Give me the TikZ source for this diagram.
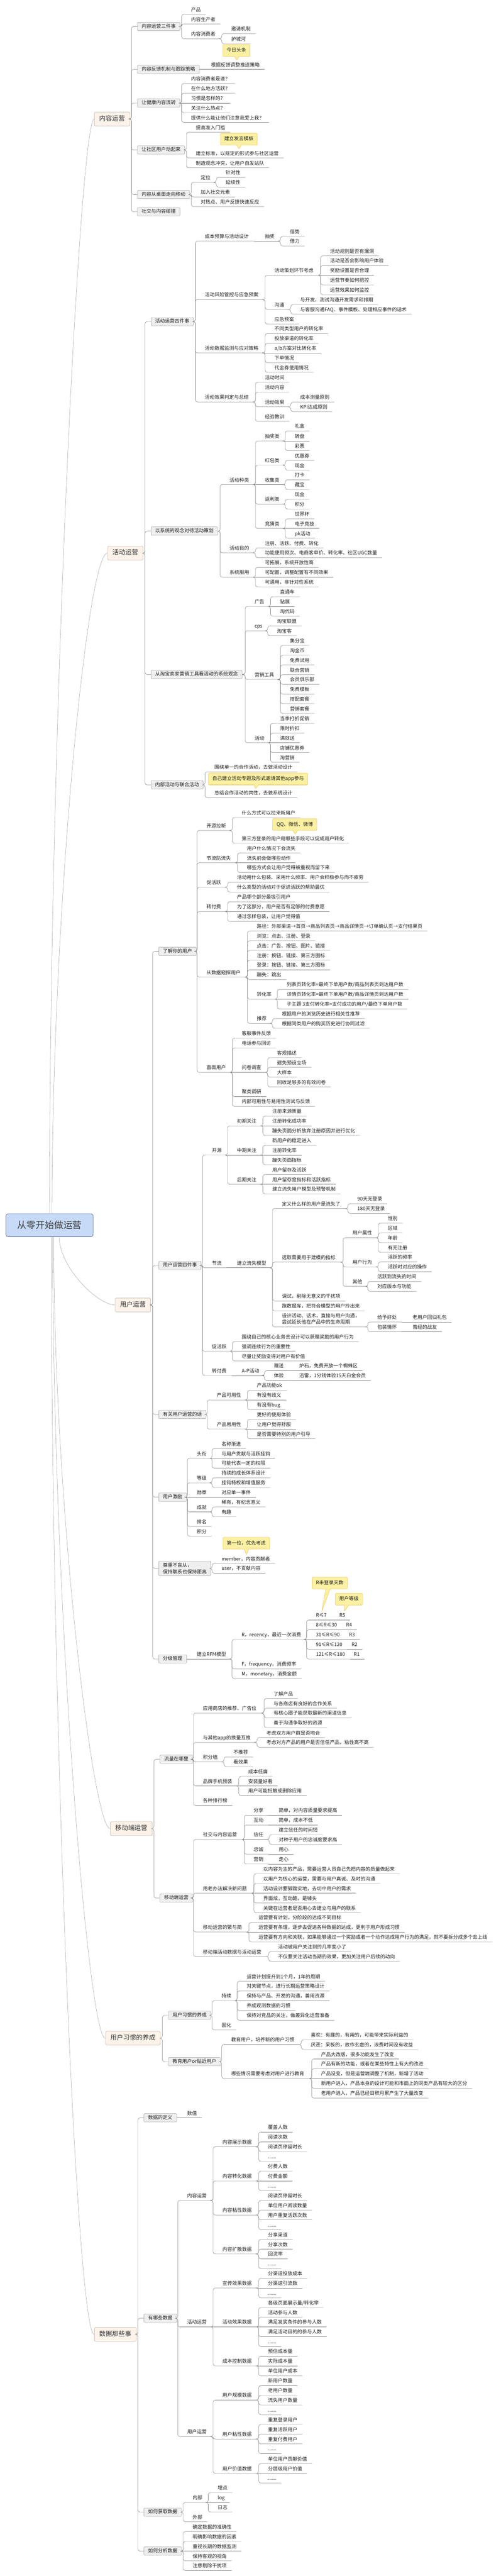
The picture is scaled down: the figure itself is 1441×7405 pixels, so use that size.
\documentclass[tikz,border=0pt]{standalone}
\usepackage{fontspec}
\setmainfont{Noto Sans CJK SC}
\usetikzlibrary{shapes.callouts}
\definecolor{lncol}{HTML}{8C8C8C}
\definecolor{mainln}{HTML}{A6A6A6}
\definecolor{bxfill}{HTML}{EFEFEF}
\definecolor{bxdraw}{HTML}{9A9A9A}
\definecolor{mfill}{HTML}{FDF3EA}
\definecolor{mdraw}{HTML}{B8ADA2}
\definecolor{rfill}{HTML}{C7DBF9}
\definecolor{rdraw}{HTML}{56688A}
\definecolor{cfill}{HTML}{FCF0A3}
\definecolor{cdraw}{HTML}{F0C24A}
\definecolor{txt}{HTML}{1E1E1E}
\definecolor{mtxt}{HTML}{333333}
\definecolor{rtxt}{HTML}{3C3C3C}
\newcommand\mmfL{\fontsize{14}{18.6}\selectfont}
\newcommand\mmfM{\fontsize{18.5}{22}\selectfont}
\newcommand\mmfR{\fontsize{26.5}{30}\selectfont}
\tikzset{
 conn/.style={draw=lncol, line width=0.9pt, rounded corners=6pt},
 mainline/.style={draw=mainln, line width=0.8pt},
 lf/.style={anchor=south west, inner xsep=14pt, inner ysep=5pt, text height=11pt, text depth=3pt, font=\mmfL, text=txt},
 lftwo/.style={anchor=south west, inner xsep=14pt, inner ysep=5pt, text depth=3pt, font=\mmfL, text=txt, align=left},
 bx/.style={anchor=west, draw=bxdraw, fill=bxfill, rounded corners=2pt, inner xsep=12pt, inner ysep=5pt, text height=11pt, text depth=3pt, font=\mmfL, text=txt, line width=0.7pt},
 bxtwo/.style={anchor=west, draw=bxdraw, fill=bxfill, rounded corners=2pt, inner xsep=12pt, inner ysep=5pt, font=\mmfL, text=txt, line width=0.7pt, align=left},
 mainbox/.style={anchor=west, draw=mdraw, fill=mfill, rounded corners=4pt, inner xsep=14pt, inner ysep=0pt, minimum height=40pt, text height=14pt, text depth=4pt, font=\mmfM, text=mtxt, line width=0.8pt},
 rootbox/.style={draw=rdraw, fill=rfill, rounded corners=6pt, minimum width=251pt, minimum height=66pt, font=\mmfR, text=rtxt, line width=1pt},
 callbox/.style={rectangle callout, draw=cdraw, fill=cfill, rounded corners=3pt, inner xsep=11pt, inner ysep=10pt, text height=11pt, text depth=3pt, font=\mmfL, text=txt, callout pointer width=12pt, line width=0.8pt}
}
\newcommand\mmLeaf[5]{\node[lf] (#1) at (#3-14,#4) {#5};\draw[conn] (#2) -| ([xshift=-13pt]#1.south west) -- (#1.south east);}
\newcommand\mmAl[5]{\node[lf] (#1) at (#3-14,#4) {#5};\draw[conn] (#2) -- (#1.south east);}
\newcommand\mmBox[5]{\node[bx] (#1) at (#3,#4) {#5};\draw[conn] (#2) -| ([xshift=-17pt]#1.west) -- (#1.west);}
\begin{document}
\begin{tikzpicture}[x=1pt,y=-1pt]
\fill[white] (0,0) rectangle (1441,7405);
\useasboundingbox (0,0) rectangle (1441,7405);

% root and main branches
\node[rootbox] (root) at (142.5,3522) {从零开始做运营};
\node[mainbox] (m1) at (271,342) {内容运营};
\node[mainbox] (m2) at (309,1590) {活动运营};
\node[mainbox] (m3) at (331,3751.2) {用户运营};
\node[mainbox] (m4) at (317,5256.5) {移动端运营};
\node[mainbox] (m5) at (303,5859) {用户习惯的养成};
\node[mainbox] (m6) at (271,6710) {数据那些事};
\draw[mainline] (root.north) .. controls +(0,-1416) and +(-41,0) .. (m1.west);
\draw[mainline] ([xshift=7pt]root.north) .. controls +(0,-855) and +(-59,0) .. (m2.west);
\draw[mainline] ([xshift=28pt]root.south) .. controls +(0,88) and +(-50,0) .. (m3.west);
\draw[mainline] ([xshift=12pt]root.south) .. controls +(0,765) and +(-50,0) .. (m4.west);
\draw[mainline] ([xshift=9pt]root.south) .. controls +(0,1037) and +(-50,0) .. (m5.west);
\draw[mainline] ([xshift=5pt]root.south) .. controls +(0,1420) and +(-50,0) .. (m6.west);

% ===== 内容运营 =====
\mmBox{a1}{m1.east}{395}{76.3}{内容运营三件事}
\mmBox{a2}{m1.east}{395}{199.6}{内容反馈机制与跟踪策略}
\mmBox{a3}{m1.east}{395}{296.3}{让健康内容流转}
\mmBox{a4}{m1.east}{395}{431}{让社区用户动起来}
\mmBox{a5}{m1.east}{395}{559}{内容从桌面走向移动}
\mmBox{a6}{m1.east}{395}{608.7}{社交与内容碰撞}
\mmLeaf{a1x}{a1.east}{549.4}{41.1}{产品}
\mmLeaf{a1y}{a1.east}{549.4}{69.2}{内容生产者}
\mmLeaf{a1z}{a1.east}{549.4}{111.5}{内容消费者}
\mmLeaf{a1za}{a1z.south east}{664.8}{96.8}{邀请机制}
\mmLeaf{a1zb}{a1z.south east}{664.8}{125.7}{护城河}
\mmAl{a2x}{a2.east}{606.7}{199.6}{根据反馈调整推送策略}
\node[callbox, callout absolute pointer={(681.4,173.9)}] (k1) at (680,145.3) {今日头条};
\mmLeaf{a3a}{a3.east}{549.4}{239.9}{内容消费者是谁？}
\mmLeaf{a3b}{a3.east}{549.4}{268}{在什么地方活跃？}
\mmAl{a3c}{a3.east}{549.4}{296.3}{习惯是怎样的？}
\mmLeaf{a3d}{a3.east}{549.4}{324.1}{关注什么热点？}
\mmLeaf{a3e}{a3.east}{549.4}{351.8}{提供什么能让他们注意我爱上我？}
\mmLeaf{a4a}{a4.east}{563.3}{380.3}{提高准入门槛}
\mmLeaf{a4b}{a4.east}{563.3}{454.2}{建立标准，以规定的形式参与社区运营}
\mmLeaf{a4c}{a4.east}{563.3}{482.3}{制造观念冲突，让用户自发站队}
\node[callbox, callout absolute pointer={(688,428.9)}] (k2) at (687,400.2) {建立发言模板};
\mmLeaf{a5a}{a5.east}{577.1}{524.2}{定位}
\mmLeaf{a5b}{a5.east}{577.1}{566.1}{加入社交元素}
\mmLeaf{a5c}{a5.east}{577.1}{593.8}{对热点、用户反馈快速反应}
\mmLeaf{a5aa}{a5a.south east}{649.2}{509.8}{针对性}
\mmLeaf{a5ab}{a5a.south east}{649.2}{538}{延续性}

% ===== 活动运营 =====
\mmBox{b1}{m2.east}{434}{924.3}{活动运营四件事}
\mmBox{b2}{m2.east}{434}{1526.6}{以系统的观念对待活动策划}
\mmBox{b3}{m2.east}{434}{1939}{从淘宝卖家营销工具看活动的系统观念}
\mmBox{b4}{m2.east}{434}{2256}{内部活动与联合活动}
\mmLeaf{b1a}{b1.east}{589.1}{693.1}{成本预算与活动设计}
\mmLeaf{b1b}{b1.east}{589.1}{861.1}{活动风险管控与应急预案}
\mmLeaf{b1c}{b1.east}{589.1}{1014.5}{活动数据监测与应对策略}
\mmLeaf{b1d}{b1.east}{589.1}{1155.6}{活动效果判定与总结}
\mmAl{b1aa}{b1a.south east}{761.8}{693.1}{抽奖}
\mmLeaf{b1aaa}{b1aa.south east}{833.8}{679.3}{借势}
\mmLeaf{b1aab}{b1aa.south east}{833.8}{707}{借力}
\mmLeaf{b1ba}{b1b.south east}{789.5}{791.2}{活动策划环节考虑}
\mmLeaf{b1bb}{b1b.south east}{789.5}{889.6}{沟通}
\mmLeaf{b1bc}{b1b.south east}{789.5}{931.5}{应急预案}
\mmLeaf{b1baa}{b1ba.south east}{949.3}{735.4}{活动规则是否有漏洞}
\mmLeaf{b1bab}{b1ba.south east}{949.3}{763.1}{活动是否会影响用户体验}
\mmAl{b1bac}{b1ba.south east}{949.3}{791.2}{奖励设置是否合理}
\mmLeaf{b1bad}{b1ba.south east}{949.3}{819.2}{运营节奏如何把控}
\mmLeaf{b1bae}{b1ba.south east}{949.3}{847.3}{运营效果如何监控}
\mmLeaf{b1bba}{b1bb.south east}{863.4}{875.4}{与开发、测试沟通开发需求和排期}
\mmLeaf{b1bbb}{b1bb.south east}{863.4}{903}{与客服沟通FAQ、事件模板、处理相应事件的话术}
\mmLeaf{b1ca}{b1c.south east}{789.5}{958.8}{不同类型用户的转化率}
\mmLeaf{b1cb}{b1c.south east}{789.5}{986.8}{投放渠道的转化率}
\mmAl{b1cc}{b1c.south east}{789.5}{1014.5}{a/b方案对比转化率}
\mmLeaf{b1cd}{b1c.south east}{789.5}{1042.6}{下单情况}
\mmLeaf{b1ce}{b1c.south east}{789.5}{1070.6}{代金券使用情况}
\mmLeaf{b1da}{b1d.south east}{761.8}{1099.1}{活动时间}
\mmLeaf{b1db}{b1d.south east}{761.8}{1127.2}{活动内容}
\mmLeaf{b1dc}{b1d.south east}{761.8}{1169.5}{活动效果}
\mmLeaf{b1dd}{b1d.south east}{761.8}{1211}{经验教训}
\mmLeaf{b1dca}{b1dc.south east}{863.4}{1155.6}{成本测量原则}
\mmLeaf{b1dcb}{b1dc.south east}{863.4}{1183.3}{KPI达成原则}
\mmLeaf{b2a}{b2.east}{660.2}{1393}{活动种类}
\mmLeaf{b2b}{b2.east}{660.2}{1589.1}{活动目的}
\mmLeaf{b2c}{b2.east}{660.2}{1659}{系统服用}
\mmLeaf{b2aa}{b2a.south east}{761.8}{1267.7}{抽奖类}
\mmLeaf{b2ab}{b2a.south east}{761.8}{1337.2}{红包类}
\mmAl{b2ac}{b2a.south east}{761.8}{1393}{收集类}
\mmLeaf{b2ad}{b2a.south east}{761.8}{1449.1}{返利类}
\mmLeaf{b2ae}{b2a.south east}{761.8}{1519.1}{竞猜类}
\mmLeaf{b2aa1}{b2aa.south east}{847.7}{1238.6}{礼盒}
\mmAl{b2aa2}{b2aa.south east}{847.7}{1267.7}{转盘}
\mmLeaf{b2aa3}{b2aa.south east}{847.7}{1295.3}{彩票}
\mmLeaf{b2ab1}{b2ab.south east}{847.7}{1323.4}{优惠券}
\mmLeaf{b2ab2}{b2ab.south east}{847.7}{1351.5}{现金}
\mmLeaf{b2ac1}{b2ac.south east}{847.7}{1379.1}{打卡}
\mmLeaf{b2ac2}{b2ac.south east}{847.7}{1407.2}{藏宝}
\mmLeaf{b2ad1}{b2ad.south east}{847.7}{1435.3}{现金}
\mmLeaf{b2ad2}{b2ad.south east}{847.7}{1463.3}{积分}
\mmLeaf{b2ae1}{b2ae.south east}{847.7}{1491.4}{世界杯}
\mmAl{b2ae2}{b2ae.south east}{847.7}{1519.1}{电子竞技}
\mmLeaf{b2ae3}{b2ae.south east}{847.7}{1547.2}{pk活动}
\mmLeaf{b2ba}{b2b.south east}{761.8}{1575.2}{注册、活跃、付费、转化}
\mmLeaf{b2bb}{b2b.south east}{761.8}{1602.9}{功能使用频次、电商客单价、转化率、社区UGC数量}
\mmLeaf{b2ca}{b2c.south east}{761.8}{1631}{可拓展，系统开放性高}
\mmAl{b2cb}{b2c.south east}{761.8}{1659}{可配置，调整配置有不同效果}
\mmLeaf{b2cc}{b2c.south east}{761.8}{1687.1}{可通用，非针对性系统}
\mmLeaf{b3a}{b3.east}{732.2}{1743.4}{广告}
\mmLeaf{b3b}{b3.east}{732.2}{1813.2}{cps}
\mmLeaf{b3c}{b3.east}{732.2}{1953.3}{营销工具}
\mmLeaf{b3d}{b3.east}{732.2}{2135.1}{活动}
\mmLeaf{b3a1}{b3a.south east}{805.2}{1715.2}{直通车}
\mmAl{b3a2}{b3a.south east}{805.2}{1743.4}{钻展}
\mmLeaf{b3a3}{b3a.south east}{805.2}{1771.3}{淘代码}
\mmLeaf{b3b1}{b3b.south east}{796.9}{1799.4}{淘宝联盟}
\mmLeaf{b3b2}{b3b.south east}{796.9}{1827.4}{淘宝客}
\mmLeaf{b3c1}{b3c.south east}{833.8}{1855.5}{集分宝}
\mmLeaf{b3c2}{b3c.south east}{833.8}{1883.7}{淘金币}
\mmLeaf{b3c3}{b3c.south east}{833.8}{1911.4}{免费试用}
\mmLeaf{b3c4}{b3c.south east}{833.8}{1939.5}{联合营销}
\mmLeaf{b3c5}{b3c.south east}{833.8}{1967.1}{会员俱乐部}
\mmLeaf{b3c6}{b3c.south east}{833.8}{1995.2}{免费模板}
\mmLeaf{b3c7}{b3c.south east}{833.8}{2022.9}{搭配套餐}
\mmLeaf{b3c8}{b3c.south east}{833.8}{2050.9}{营销套餐}
\mmLeaf{b3d1}{b3d.south east}{805.2}{2079.4}{当季打折促销}
\mmLeaf{b3d2}{b3d.south east}{805.2}{2107.5}{限时折扣}
\mmAl{b3d3}{b3d.south east}{805.2}{2135.1}{满就送}
\mmLeaf{b3d4}{b3d.south east}{805.2}{2163.2}{店铺优惠券}
\mmLeaf{b3d5}{b3d.south east}{805.2}{2191.3}{淘营销}
\mmLeaf{b4a}{b4.east}{616.8}{2218.9}{围绕单一的合作活动，去做活动设计}
\mmLeaf{b4b}{b4.east}{616.8}{2292.9}{总结合作活动的共性，去做系统设计}
\node[callbox, callout absolute pointer={(734,2268)}] (k3) at (742.4,2239.3) {自己建立活动专题及形式邀请其他app参与};

% ===== 用户运营 =====
\mmBox{c1}{m3.east}{456.2}{2734.6}{了解你的用户}
\mmBox{c2}{m3.east}{456.2}{3637.5}{用户运营四件事}
\mmBox{c3}{m3.east}{456.2}{4065.8}{有关用户运营的话}
\mmBox{c4}{m3.east}{456.2}{4303.8}{用户激励}
\node[bxtwo] (c5) at (456.2,4508.6) {尊重不盲从，\\保持联系也保持距离};
\draw[conn] (m3.east) -| ([xshift=-17pt]c5.west) -- (c5.west);
\mmBox{c6}{m3.east}{456.2}{4768.9}{分级管理}
\mmLeaf{c1a}{c1.east}{593.8}{2387.3}{开源拉新}
\mmLeaf{c1b}{c1.east}{593.8}{2480}{节流防流失}
\mmLeaf{c1c}{c1.east}{593.8}{2550.4}{促活跃}
\mmLeaf{c1d}{c1.east}{593.8}{2620.3}{转付费}
\mmLeaf{c1e}{c1.east}{593.8}{2808.9}{从数据窥探用户}
\mmLeaf{c1f}{c1.east}{593.8}{3082.5}{直面用户}
\mmLeaf{c1a1}{c1a.south east}{695.3}{2350.2}{什么方式可以拉来新用户}
\mmLeaf{c1a2}{c1a.south east}{695.3}{2424.1}{第三方登录的用户用哪些手段可以促成用户转化}
\node[callbox, callout absolute pointer={(849.5,2398.4)}] (k4) at (847.7,2370.3) {QQ、微信、微博};
\mmLeaf{c1b1}{c1b.south east}{710.1}{2452.1}{用户什么情况下会流失}
\mmAl{c1b2}{c1b.south east}{710.1}{2480}{流失前会做哪些动作}
\mmLeaf{c1b3}{c1b.south east}{710.1}{2507.7}{哪些方式会让用户觉得被重视而留下来}
\mmLeaf{c1c1}{c1c.south east}{681.5}{2536.1}{活动用什么包装、采用什么频率、用户会积极参与而不疲劳}
\mmLeaf{c1c2}{c1c.south east}{681.5}{2564.2}{什么类型的活动对于促进活跃的帮助最优}
\mmLeaf{c1d1}{c1d.south east}{681.5}{2592.3}{产品哪个部分最吸引用户}
\mmAl{c1d2}{c1d.south east}{681.5}{2620.3}{为了这部分，用户是否有足够的付费意愿}
\mmLeaf{c1d3}{c1d.south east}{681.5}{2648.4}{通过怎样包装，让用户觉得值}
\mmLeaf{c1e1}{c1e.south east}{738.7}{2676.1}{路径：外部渠道→首页→商品列表页→商品详情页→订单确认页→支付结果页}
\mmLeaf{c1e2}{c1e.south east}{738.7}{2704.1}{浏览：点击、注册、登录}
\mmLeaf{c1e3}{c1e.south east}{738.7}{2732.2}{点击：广告、按钮、图片、链接}
\mmLeaf{c1e4}{c1e.south east}{738.7}{2760.3}{注册：按钮、链接、第三方图标}
\mmLeaf{c1e5}{c1e.south east}{738.7}{2787.9}{登录：按钮、链接、第三方图标}
\mmLeaf{c1e6}{c1e.south east}{738.7}{2816}{蹦失：跳出}
\mmLeaf{c1e7}{c1e.south east}{738.7}{2872.1}{转化率}
\mmLeaf{c1e8}{c1e.south east}{738.7}{2941.7}{推荐}
\mmLeaf{c1e71}{c1e7.south east}{824.6}{2844.1}{列表页转化率=最终下单用户数/商品列表页到达用户数}
\mmAl{c1e72}{c1e7.south east}{824.6}{2872.1}{详情页转化率=最终下单用户数/商品详情页到达用户数}
\mmLeaf{c1e73}{c1e7.south east}{824.6}{2900.2}{子主题 3支付转化率=支付成功的用户/最终下单用户数}
\mmLeaf{c1e81}{c1e8.south east}{810.7}{2927.9}{根据用户的浏览历史进行相关性推荐}
\mmLeaf{c1e82}{c1e8.south east}{810.7}{2955.9}{根据同类用户的购买历史进行协同过滤}
\mmLeaf{c1f1}{c1f.south east}{695.3}{2984.4}{客服事件反馈}
\mmLeaf{c1f2}{c1f.south east}{695.3}{3012.4}{电话参与回访}
\mmAl{c1f3}{c1f.south east}{695.3}{3082.5}{问卷调查}
\mmLeaf{c1f4}{c1f.south east}{695.3}{3152.2}{聚类调研}
\mmLeaf{c1f5}{c1f.south east}{695.3}{3180.2}{内部可用性与易用性测试与反馈}
\mmLeaf{c1f31}{c1f3.south east}{796.9}{3040.2}{客观描述}
\mmLeaf{c1f32}{c1f3.south east}{796.9}{3068.2}{避免预设立场}
\mmLeaf{c1f33}{c1f3.south east}{796.9}{3096.3}{大样本}
\mmLeaf{c1f34}{c1f3.south east}{796.9}{3124.5}{回收足够多的有效问卷}
\mmLeaf{c2a}{c2.east}{609.4}{3320.2}{开源}
\mmLeaf{c2b}{c2.east}{609.4}{3644.3}{节流}
\mmLeaf{c2c}{c2.east}{609.4}{3884}{促活跃}
\mmLeaf{c2d}{c2.east}{609.4}{3954}{转付费}
\mmLeaf{c2aa}{c2a.south east}{681.5}{3236.4}{初期关注}
\mmAl{c2ab}{c2a.south east}{681.5}{3320.2}{中期关注}
\mmLeaf{c2ac}{c2a.south east}{681.5}{3404.4}{后期关注}
\mmLeaf{c2aa1}{c2aa.south east}{783.1}{3208.3}{注册来源质量}
\mmAl{c2aa2}{c2aa.south east}{783.1}{3236.4}{注册转化成功率}
\mmLeaf{c2aa3}{c2aa.south east}{783.1}{3264}{蹦失页面分析放弃注册原因并进行优化}
\mmLeaf{c2ab1}{c2ab.south east}{783.1}{3292.5}{新用户的稳定进入}
\mmAl{c2ab2}{c2ab.south east}{783.1}{3320.2}{注册转化率}
\mmLeaf{c2ab3}{c2ab.south east}{783.1}{3348.3}{蹦失页面指标}
\mmLeaf{c2ac1}{c2ac.south east}{783.1}{3376.3}{用户留存及活跃}
\mmAl{c2ac2}{c2ac.south east}{783.1}{3404.4}{用户留存度指标和活跃指标}
\mmLeaf{c2ac3}{c2ac.south east}{783.1}{3432}{建立流失用户模型及预警机制}
\mmAl{c2ba}{c2b.south east}{681.5}{3644.3}{建立流失模型}
\mmLeaf{c2baa}{c2ba.south east}{810.7}{3474}{定义什么样的用户是流失了}
\mmLeaf{c2bab}{c2ba.south east}{810.7}{3628.1}{选取需要用于建模的指标}
\mmLeaf{c2bac}{c2ba.south east}{810.7}{3739.8}{调试，剔除无意义的干扰项}
\mmLeaf{c2bad}{c2ba.south east}{810.7}{3768.2}{跑数据库，把符合模型的用户拎出来}
\node[lftwo] (c2bae) at (810.7-14,3814.1) {设计活动、话术，直接与用户沟通，\\尝试延长他在产品中的生命周期};
\draw[conn] (c2ba.south east) -| ([xshift=-13pt]c2bae.south west) -- (c2bae.south east);
\mmLeaf{c2baa1}{c2baa.south east}{1027.7}{3460.1}{90天无登录}
\mmLeaf{c2baa2}{c2baa.south east}{1027.7}{3488.1}{180天无登录}
\mmLeaf{p1}{c2bab.south east}{1013.9}{3558.1}{用户属性}
\mmLeaf{p2}{c2bab.south east}{1013.9}{3641.9}{用户行为}
\mmLeaf{p3}{c2bab.south east}{1013.9}{3697.6}{其他}
\mmLeaf{p11}{p1.south east}{1115.4}{3515.8}{性别}
\mmLeaf{p12}{p1.south east}{1115.4}{3543.9}{区域}
\mmLeaf{p13}{p1.south east}{1115.4}{3572}{年龄}
\mmLeaf{p14}{p1.south east}{1115.4}{3600}{有无注册}
\mmLeaf{p21}{p2.south east}{1115.4}{3627.7}{活跃的频率}
\mmLeaf{p22}{p2.south east}{1115.4}{3655.8}{活跃时对应的操作}
\mmLeaf{p31}{p3.south east}{1085}{3683.5}{活跃到流失的时间}
\mmLeaf{p32}{p3.south east}{1085}{3711.9}{对应版本与功能}
\mmLeaf{q1}{c2bae.south east}{1085}{3800.2}{给予好处}
\mmLeaf{q2}{c2bae.south east}{1085}{3827.9}{包装情怀}
\mmAl{q11}{q1.south east}{1186.6}{3800.2}{老用户回归礼包}
\mmAl{q21}{q2.south east}{1186.6}{3827.9}{曾经的战友}
\mmLeaf{c2c1}{c2c.south east}{695.3}{3856.4}{围绕自己的核心业务去设计可以获赠奖励的用户行为}
\mmAl{c2c2}{c2c.south east}{695.3}{3884}{强调连续行为的重要性}
\mmLeaf{c2c3}{c2c.south east}{695.3}{3912.1}{尽量让奖励变得对用户有价值}
\mmAl{c2da}{c2d.south east}{695.3}{3954}{A-P活动}
\mmLeaf{r1}{c2da.south east}{787.7}{3940.2}{赠送}
\mmLeaf{r2}{c2da.south east}{787.7}{3968.3}{体验}
\mmAl{r11}{r1.south east}{860.6}{3940.2}{炉石，免费开放一个蜘蛛区}
\mmAl{r21}{r2.south east}{860.6}{3968.3}{迅雷，1分钱体验15天白金会员}
\mmLeaf{c3a}{c3.east}{623.3}{4024.4}{产品可用性}
\mmLeaf{c3b}{c3.east}{623.3}{4108.1}{产品易用性}
\mmLeaf{c3a1}{c3a.south east}{738.7}{3996.3}{产品功能ok}
\mmAl{c3a2}{c3a.south east}{738.7}{4024.4}{有没有歧义}
\mmLeaf{c3a3}{c3a.south east}{738.7}{4052}{有没有bug}
\mmLeaf{c3b1}{c3b.south east}{738.7}{4080.1}{更好的使用体验}
\mmAl{c3b2}{c3b.south east}{738.7}{4108.1}{让用户觉得舒服}
\mmLeaf{c3b3}{c3b.south east}{738.7}{4135.9}{是否需要特别的用户引导}
\mmLeaf{c4a}{c4.east}{566}{4192}{头衔}
\mmLeaf{c4b}{c4.east}{566}{4262.4}{等级}
\mmAl{c4c}{c4.east}{566}{4303.8}{勋章}
\mmLeaf{c4d}{c4.east}{566}{4346}{成就}
\mmLeaf{c4e}{c4.east}{566}{4388.2}{排名}
\mmLeaf{c4f}{c4.east}{566}{4415.9}{积分}
\mmLeaf{c4a1}{c4a.south east}{637.1}{4163.9}{名称渐进}
\mmAl{c4a2}{c4a.south east}{637.1}{4192}{与用户贡献与活跃挂钩}
\mmLeaf{c4a3}{c4a.south east}{637.1}{4220}{可能代表一定的权限}
\mmLeaf{c4b1}{c4b.south east}{637.1}{4248.1}{持续的成长体系设计}
\mmLeaf{c4b2}{c4b.south east}{637.1}{4275.8}{挂钩特权和增值服务}
\mmAl{c4c1}{c4c.south east}{637.1}{4303.8}{对应单一事件}
\mmLeaf{c4d1}{c4d.south east}{637.1}{4331.9}{稀有，有纪念意义}
\mmLeaf{c4d2}{c4d.south east}{637.1}{4359.8}{有趣}
\mmLeaf{c5a}{c5.east}{637.1}{4494.2}{member，内容贡献者}
\mmLeaf{c5b}{c5.east}{637.1}{4522.2}{user，不贡献内容}
\node[callbox, callout absolute pointer={(709.2,4469.3)}] (k5) at (708.2,4436.2) {第一位，优先考虑};
\mmAl{c6a}{c6.east}{566}{4768.9}{建立RFM模型}
\mmLeaf{s1}{c6a.south east}{694.4}{4712.7}{R，recency，最近一次消费}
\mmLeaf{s2}{c6a.south east}{694.4}{4797.3}{F，frequency，消费频率}
\mmLeaf{s3}{c6a.south east}{694.4}{4825}{M，monetary，消费金额}
\mmLeaf{t1}{s1.south east}{908.6}{4657}{R≤7}
\mmLeaf{t2}{s1.south east}{908.6}{4685.1}{8≤R≤30}
\mmAl{t3}{s1.south east}{908.6}{4712.7}{31≤R≤90}
\mmLeaf{t4}{s1.south east}{908.6}{4741.2}{91≤R≤120}
\mmLeaf{t5}{s1.south east}{908.6}{4768.9}{121≤R≤180}
\mmAl{t11}{t1.south east}{976}{4657}{R5}
\mmAl{t21}{t2.south east}{995.4}{4685.1}{R4}
\mmAl{t31}{t3.south east}{1003.7}{4712.7}{R3}
\mmAl{t41}{t4.south east}{1011.1}{4741.2}{R2}
\mmAl{t51}{t5.south east}{1017.6}{4768.9}{R1}
\node[callbox, callout absolute pointer={(925.2,4632.5)}] (k6) at (948.3,4550.5) {R未登录天数};
\node[callbox, callout absolute pointer={(989.9,4632.5)}] (k7) at (1003.7,4597.2) {用户等级};

% ===== 移动端运营 =====
\mmBox{d1}{m4.east}{459.8}{5057.2}{流量在哪里}
\mmBox{d2}{m4.east}{459.8}{5456}{移动端运营}
\mmLeaf{d1a}{d1.east}{583.6}{4924.3}{应用商店的推荐、广告位}
\mmLeaf{d1b}{d1.east}{583.6}{5008.6}{与其他app的换量互推}
\mmLeaf{d1c}{d1.east}{583.6}{5064.4}{积分墙}
\mmLeaf{d1d}{d1.east}{583.6}{5133.9}{品牌手机预装}
\mmLeaf{d1e}{d1.east}{583.6}{5190.1}{各种排行榜}
\mmLeaf{d1a1}{d1a.south east}{786.7}{4882.4}{了解产品}
\mmLeaf{d1a2}{d1a.south east}{786.7}{4910.4}{与各商店有良好的合作关系}
\mmLeaf{d1a3}{d1a.south east}{786.7}{4938.1}{有核心圈子能获取最新的渠道信息}
\mmLeaf{d1a4}{d1a.south east}{786.7}{4965.9}{善于沟通争取好的资源}
\mmLeaf{d1b1}{d1b.south east}{766.4}{4994.8}{考虑双方用户群是否吻合}
\mmLeaf{d1b2}{d1b.south east}{766.4}{5022.5}{考虑对方产品的用户是否信任产品，粘性高不高}
\mmLeaf{d1c1}{d1c.south east}{671.3}{5050.5}{不推荐}
\mmLeaf{d1c2}{d1c.south east}{671.3}{5078.2}{看效果}
\mmLeaf{d1d1}{d1d.south east}{713.8}{5106.3}{成本低廉}
\mmAl{d1d2}{d1d.south east}{713.8}{5133.9}{安装量好看}
\mmLeaf{d1d3}{d1d.south east}{713.8}{5162}{用户可能抵触或删除应用}
\mmLeaf{d2a}{d2.east}{583.6}{5287.7}{社交与内容运营}
\mmLeaf{d2b}{d2.east}{583.6}{5442.3}{用老办法解决新问题}
\mmLeaf{d2c}{d2.east}{583.6}{5553.7}{移动运营的繁与简}
\mmLeaf{d2d}{d2.east}{583.6}{5624.3}{移动端活动数据与活动运营}
\mmLeaf{u1}{d2a.south east}{729.5}{5218.1}{分享}
\mmLeaf{u2}{d2a.south east}{729.5}{5246.2}{互动}
\mmAl{u3}{d2a.south east}{729.5}{5287.7}{信任}
\mmLeaf{u4}{d2a.south east}{729.5}{5330}{忠诚}
\mmLeaf{u5}{d2a.south east}{729.5}{5358.1}{营销}
\mmAl{u11}{u1.south east}{801.5}{5218.1}{简单，对内容质量要求提高}
\mmAl{u21}{u2.south east}{801.5}{5246.2}{简单，成本不低}
\mmLeaf{u31}{u3.south east}{801.5}{5273.9}{建立信任的时间短}
\mmLeaf{u32}{u3.south east}{801.5}{5301.9}{对种子用户的忠诚度要求高}
\mmAl{u41}{u4.south east}{801.5}{5330}{用心}
\mmAl{u51}{u5.south east}{801.5}{5358.1}{走心}
\mmLeaf{d2b1}{d2b.south east}{757.2}{5386.1}{以内容为主的产品，需要运营人员自己先把内容的质量做起来}
\mmLeaf{d2b2}{d2b.south east}{757.2}{5414.2}{以用户为核心的运营，需要与用户真诚、及时的沟通}
\mmAl{d2b3}{d2b.south east}{757.2}{5442.3}{活动设计要脚踏实地，去切中用户的需求}
\mmLeaf{d2b4}{d2b.south east}{757.2}{5470.3}{界面炫，互动酷，是噱头}
\mmLeaf{d2b5}{d2b.south east}{757.2}{5498.4}{关键在运营者是否用心去建立与用户的联系}
\mmLeaf{d2c1}{d2c.south east}{743.3}{5526}{运营要有计划，分阶段的达成不同目标}
\mmAl{d2c2}{d2c.south east}{743.3}{5553.7}{运营要有条理，逐步去促进各种数据的达成，更利于用户形成习惯}
\mmLeaf{d2c3}{d2c.south east}{743.3}{5582}{运营要有方向和关联，如果能够通过一个奖励或者一个动作达成用户行为的满足，就不要拆分成多个去上线}
\mmLeaf{d2d1}{d2d.south east}{799.7}{5610}{活动被用户关注到的几率变小了}
\mmLeaf{d2d2}{d2d.south east}{799.7}{5638.1}{不仅要关注活动当期的效果，更加关注用户后续的动向}

% ===== 用户习惯的养成 =====
\mmBox{e1}{m5.east}{483.9}{5793.4}{用户习惯的养成}
\mmBox{e2}{m5.east}{483.9}{5926.6}{教育用户or贴近用户}
\mmLeaf{e1a}{e1.east}{637.1}{5751.2}{持续}
\mmLeaf{e1b}{e1.east}{637.1}{5835}{固化}
\mmLeaf{e1a1}{e1a.south east}{709.2}{5695.4}{运营计划提升到1个月，1年的周期}
\mmLeaf{e1a2}{e1a.south east}{709.2}{5723.1}{对关键节点，进行长期运营策略设计}
\mmAl{e1a3}{e1a.south east}{709.2}{5751.2}{保持与产品、开发的沟通，善用资源}
\mmLeaf{e1a4}{e1a.south east}{709.2}{5779.2}{养成观测数据的习惯}
\mmLeaf{e1a5}{e1a.south east}{709.2}{5807.3}{保持对竞品的关注，做差异化运营准备}
\mmLeaf{e2a}{e2.east}{664.8}{5877.3}{教育用户，培养新的用户习惯}
\mmLeaf{e2b}{e2.east}{664.8}{5974.9}{哪些情况需要考虑对用户进行教育}
\mmLeaf{e2a1}{e2a.south east}{893.8}{5863}{喜欢：有趣的，有用的，可能带来实际利益的}
\mmLeaf{e2a2}{e2a.south east}{893.8}{5891.5}{厌恶：呆板的，故作玄虚的，浪费时间没有收益}
\mmLeaf{e2b1}{e2b.south east}{923.4}{5918.8}{产品大改版，很多功能发生了改变}
\mmLeaf{e2b2}{e2b.south east}{923.4}{5946.8}{产品有新的功能，或者在某些特性上有大的改进}
\mmAl{e2b3}{e2b.south east}{923.4}{5974.9}{产品没变，但是运营端调整了机制，新增了活动}
\mmLeaf{e2b4}{e2b.south east}{923.4}{6003}{新用户进入，产品本身的设计可能和市面上的同类产品有较大的区分}
\mmLeaf{e2b5}{e2b.south east}{923.4}{6031}{老用户进入，产品已经日积月累产生了大量改变}

% ===== 数据那些事 =====
\mmBox{f1}{m6.east}{413.7}{6087.9}{数据的定义}
\mmBox{f2}{m6.east}{413.7}{6664}{有哪些数据}
\mmBox{f3}{m6.east}{413.7}{7221.5}{如何获取数据}
\mmBox{f4}{m6.east}{413.7}{7333.4}{如何分析数据}
\mmAl{f1a}{f1.east}{538.3}{6087.9}{数值}
\mmLeaf{g1}{f2.east}{538.3}{6325.3}{内容运营}
\mmLeaf{g2}{f2.east}{538.3}{6688.9}{活动运营}
\mmLeaf{g3}{f2.east}{538.3}{7004}{用户运营}
\mmLeaf{h1}{g1.south east}{639.9}{6170.9}{内容展示数据}
\mmLeaf{h2}{g1.south east}{639.9}{6269.2}{内容转化数据}
\mmLeaf{h3}{g1.south east}{639.9}{6367.2}{内容粘性数据}
\mmLeaf{h4}{g1.south east}{639.9}{6479.1}{内容扩散数据}
\mmLeaf{h11}{h1.south east}{771}{6129}{覆盖人数}
\mmLeaf{h12}{h1.south east}{771}{6157.1}{阅读次数}
\mmLeaf{h13}{h1.south east}{771}{6184.8}{阅读页停留时长}
\mmLeaf{h14}{h1.south east}{771}{6213}{......}
\mmLeaf{h21}{h2.south east}{771}{6241.1}{付费人数}
\mmAl{h22}{h2.south east}{771}{6269.2}{付费金额}
\mmLeaf{h23}{h2.south east}{771}{6297.2}{......}
\mmLeaf{h31}{h3.south east}{771}{6325.3}{阅读页停留时长}
\mmLeaf{h32}{h3.south east}{771}{6353.4}{单位用户阅读数量}
\mmLeaf{h33}{h3.south east}{771}{6381}{用户重复活跃次数}
\mmLeaf{h34}{h3.south east}{771}{6409.1}{......}
\mmLeaf{h41}{h4.south east}{771}{6437.2}{分享渠道}
\mmLeaf{h42}{h4.south east}{771}{6465.3}{分享次数}
\mmLeaf{h43}{h4.south east}{771}{6493.3}{回流率}
\mmLeaf{h44}{h4.south east}{771}{6521.4}{......}
\mmLeaf{h5}{g2.south east}{639.9}{6577.1}{宣传效果数据}
\mmAl{h6}{g2.south east}{639.9}{6688.9}{活动效果数据}
\mmLeaf{h7}{g2.south east}{639.9}{6800.9}{成本控制数据}
\mmLeaf{h51}{h5.south east}{771}{6549.4}{分渠道投放成本}
\mmAl{h52}{h5.south east}{771}{6577.1}{分渠道引流数}
\mmLeaf{h53}{h5.south east}{771}{6605.2}{......}
\mmLeaf{h61}{h6.south east}{771}{6633.2}{各级页面展示量/转化率}
\mmLeaf{h62}{h6.south east}{771}{6660.9}{活动参与人数}
\mmAl{h63}{h6.south east}{771}{6688.9}{满足发奖条件的参与人数}
\mmLeaf{h64}{h6.south east}{771}{6717}{满足活动目的的参与人数}
\mmLeaf{h65}{h6.south east}{771}{6745.1}{......}
\mmLeaf{h71}{h7.south east}{771}{6773.2}{预估成本量}
\mmAl{h72}{h7.south east}{771}{6800.9}{实际成本量}
\mmLeaf{h73}{h7.south east}{771}{6829.3}{单位用户成本}
\mmLeaf{h8}{g3.south east}{639.9}{6899.1}{用户规模数据}
\mmLeaf{h9}{g3.south east}{639.9}{7011.4}{用户粘性数据}
\mmLeaf{h10}{g3.south east}{639.9}{7109.6}{用户价值数据}
\mmLeaf{h81}{h8.south east}{771}{6857.7}{新用户数量}
\mmLeaf{h82}{h8.south east}{771}{6885.3}{老用户数量}
\mmLeaf{h83}{h8.south east}{771}{6913.3}{流失用户数量}
\mmLeaf{h84}{h8.south east}{771}{6941.3}{......}
\mmLeaf{h91}{h9.south east}{771}{6969.3}{重复登录用户}
\mmLeaf{h92}{h9.south east}{771}{6997.2}{重复活跃用户}
\mmLeaf{h93}{h9.south east}{771}{7025.2}{重复付费用户}
\mmLeaf{h94}{h9.south east}{771}{7053.2}{......}
\mmLeaf{h101}{h10.south east}{771}{7081.6}{单位用户贡献价值}
\mmAl{h102}{h10.south east}{771}{7109.6}{分层级用户价值}
\mmLeaf{h103}{h10.south east}{771}{7137.5}{......}
\mmLeaf{i1}{f3.east}{554}{7193.1}{内部}
\mmLeaf{i2}{f3.east}{554}{7249.1}{外部}
\mmLeaf{i11}{i1.south east}{626}{7165.1}{埋点}
\mmAl{i12}{i1.south east}{626}{7193.1}{log}
\mmLeaf{i13}{i1.south east}{626}{7221.1}{日志}
\mmLeaf{j1}{f4.east}{554}{7277.1}{确定数据的准确性}
\mmLeaf{j2}{f4.east}{554}{7305.4}{明确影响数据的因素}
\mmAl{j3}{f4.east}{554}{7333.4}{重视长期的数据监测}
\mmLeaf{j4}{f4.east}{554}{7361.4}{保持客观的视角}
\mmLeaf{j5}{f4.east}{554}{7389.4}{注意剔除干扰项}
\end{tikzpicture}
\end{document}
